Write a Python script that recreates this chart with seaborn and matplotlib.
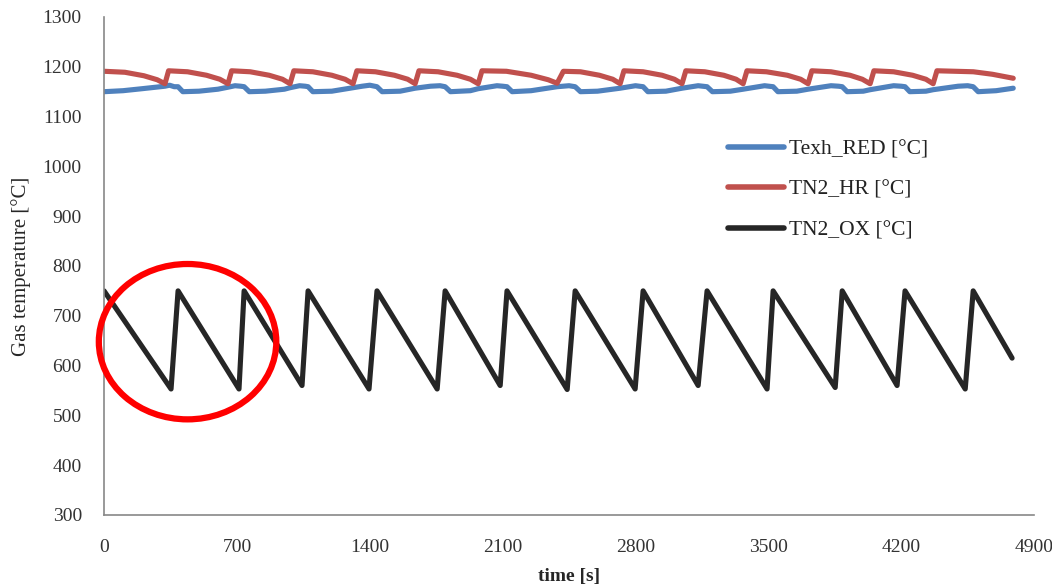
"""Gas temperatures over time (reduction / heat recovery / oxidation)."""

import matplotlib
matplotlib.use("Agg")
import matplotlib.pyplot as plt
from matplotlib.patches import Ellipse
import numpy as np
import pandas as pd
import seaborn as sns

# --- data --------------------------------------------------------------
# TN2_OX: sawtooth, read at the peaks and troughs
ox_time = [0, 353, 390, 711, 738, 1043, 1075, 1396, 1438, 1755, 1797, 2087, 2123,
           2440, 2482, 2798, 2840, 3130, 3177, 3493, 3525, 3852, 3889, 4178, 4220,
           4537, 4579, 4784]
ox_temp = [750, 553, 750, 553, 750, 560, 750, 553, 750, 553, 750, 560, 750,
           552, 750, 553, 750, 560, 750, 553, 750, 556, 750, 560, 750,
           553, 750, 615]

# TN2_HR: slowly decaying, jumps back up every cycle
hr_time = [0, 110, 210, 280, 321, 340, 440, 540, 610, 653, 672, 770, 870, 940,
           980, 1000, 1100, 1200, 1270, 1312, 1332, 1430, 1530, 1600, 1639, 1659,
           1760, 1860, 1930, 1971, 1991, 2120, 2250, 2340, 2387, 2420, 2510, 2610,
           2680, 2719, 2739, 2840, 2940, 3005, 3045, 3065, 3165, 3265, 3330, 3367,
           3387, 3490, 3600, 3670, 3709, 3729, 3830, 3930, 3995, 4036, 4056, 4160,
           4260, 4330, 4368, 4388, 4580, 4680, 4790]
hr_temp = [1191, 1189, 1182, 1174, 1166, 1192, 1190, 1183, 1175, 1166, 1192, 1190,
           1183, 1175, 1166, 1192, 1190, 1183, 1175, 1166, 1192, 1190, 1183, 1175,
           1166, 1192, 1190, 1183, 1175, 1166, 1192, 1191, 1183, 1174, 1167, 1191,
           1190, 1183, 1175, 1166, 1192, 1190, 1183, 1175, 1166, 1192, 1190, 1183,
           1175, 1166, 1192, 1190, 1183, 1175, 1166, 1192, 1190, 1183, 1175, 1166,
           1192, 1190, 1183, 1175, 1166, 1192, 1190, 1185, 1177]

# Texh_RED: slow rise, drops when the OX side switches
red_time = [0, 100, 200, 321, 345, 370, 390, 415, 500, 600, 653, 690, 720, 738,
            765, 850, 950, 980, 1030, 1060, 1075, 1100, 1200, 1312, 1360, 1400,
            1438, 1465, 1560, 1639, 1720, 1770, 1797, 1825, 1930, 1971, 2070, 2100,
            2123, 2150, 2250, 2387, 2450, 2482, 2510, 2600, 2719, 2800, 2840, 2865,
            2960, 3045, 3130, 3177, 3205, 3300, 3367, 3480, 3525, 3550, 3650, 3709,
            3830, 3870, 3889, 3915, 4000, 4036, 4160, 4200, 4220, 4245, 4330, 4368,
            4500, 4550, 4579, 4605, 4700, 4790]
red_temp = [1150, 1152, 1156, 1161, 1163, 1160, 1160, 1150, 1151, 1155, 1159, 1162,
            1161, 1160, 1150, 1151, 1155, 1158, 1162, 1161, 1160, 1150, 1151, 1158,
            1161, 1163, 1160, 1150, 1151, 1157, 1161, 1162, 1160, 1150, 1152, 1156,
            1162, 1161, 1160, 1150, 1152, 1160, 1162, 1160, 1150, 1151, 1157, 1162,
            1160, 1150, 1151, 1157, 1162, 1160, 1150, 1151, 1155, 1162, 1160, 1150,
            1151, 1155, 1162, 1161, 1160, 1150, 1151, 1154, 1162, 1161, 1160, 1150,
            1151, 1154, 1161, 1162, 1160, 1150, 1152, 1157]

series_names = ["Texh_RED [°C]", "TN2_HR [°C]", "TN2_OX [°C]"]
series_colors = ["#4F81BD", "#C0504D", "#262626"]

x_ticks = [0, 700, 1400, 2100, 2800, 3500, 4200, 4900]
y_ticks = list(range(300, 1301, 100))

# highlighted region (first two OX cycles)
circle_center = (440, 648)
circle_size = (935, 312)


def main() -> None:
    df = pd.concat([
        pd.DataFrame({"time": red_time, "temp": red_temp, "series": series_names[0]}),
        pd.DataFrame({"time": hr_time, "temp": hr_temp, "series": series_names[1]}),
        pd.DataFrame({"time": ox_time, "temp": ox_temp, "series": series_names[2]}),
    ], ignore_index=True)

    sns.set_style("white")
    plt.rcParams["font.family"] = ["Liberation Serif", "DejaVu Serif"]

    fig = plt.figure(figsize=(10.52, 5.86), dpi=100)
    ax = fig.add_axes([0.0989, 0.1212, 0.8841, 0.8498])

    sns.lineplot(data=df, x="time", y="temp", hue="series", hue_order=series_names,
                 palette=series_colors, estimator=None, sort=False,
                 linewidth=3.7, ax=ax)

    ax.add_patch(Ellipse(circle_center, circle_size[0], circle_size[1],
                         fill=False, edgecolor="#FF0000", linewidth=4.5, zorder=5,
                         clip_on=False))

    ax.set_xlim(0, 4900)
    ax.set_ylim(300, 1300)
    ax.set_xticks(x_ticks)
    ax.set_yticks(y_ticks)
    ax.tick_params(axis="both", labelsize=14, length=6, width=1, color="#888888",
                   labelcolor="#333333", direction="out")
    ax.tick_params(axis="y", pad=10)
    ax.tick_params(axis="x", pad=11)

    for side in ("top", "right"):
        ax.spines[side].set_visible(False)
    for side in ("left", "bottom"):
        ax.spines[side].set_color("#888888")
        ax.spines[side].set_linewidth(1.2)

    ax.set_xlabel("time [s]", fontsize=14, fontweight="bold", labelpad=9)
    ax.set_ylabel("Gas temperature [°C]", fontsize=15, labelpad=8)

    handles, labels = ax.get_legend_handles_labels()
    for h in handles:
        h.set_linewidth(4)
    ax.legend(handles, labels, loc="upper left", bbox_to_anchor=(0.659, 0.776),
              frameon=False, fontsize=15.5, handlelength=2.6, handletextpad=0.25,
              labelspacing=0.95, borderpad=0, labelcolor="#222222")

    fig.savefig("out.png", dpi=100)
    plt.close(fig)


if __name__ == "__main__":
    main()
